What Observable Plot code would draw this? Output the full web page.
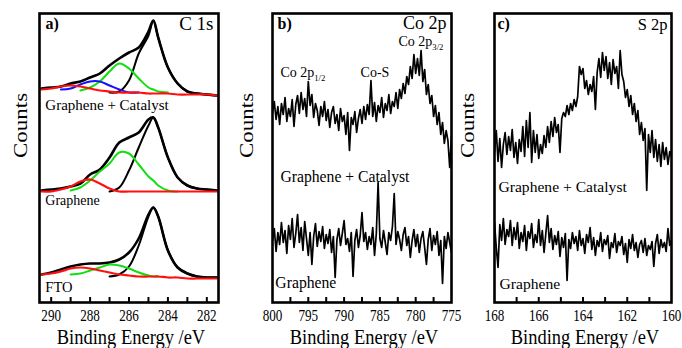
<!DOCTYPE html>
<html>
<head>
<meta charset="utf-8">
<script src="https://cdn.jsdelivr.net/npm/d3@7"></script>
<script src="https://cdn.jsdelivr.net/npm/@observablehq/plot@0.6"></script>
<style>
  html, body { margin: 0; padding: 0; background: #fff; overflow: hidden; }
  #chart { position: relative; width: 682px; height: 348px; }
  #chart svg { position: absolute; top: 0; overflow: visible; }
</style>
</head>
<body>
<div id="chart"></div>
<script>
// ---------- C 1s (panel a): binding-energy samples and read-off counts ----------
const cE = [290.5, 290, 289.5, 289, 288.5, 288, 287.5, 287, 286.5, 286, 285.5, 285, 284.75, 284.5, 284, 283.5, 283, 282.5, 282, 281.5];

// Graphene + Catalyst
const c1sGCEnv   = [214, 215, 216, 219, 221, 225, 229, 237, 244, 250, 255, 271, 282, 265, 235, 219, 211, 209, 208, 207];
const c1sGCRed   = [213, 214, 216, 217, 216, 214, 212, 211, 210, 210, 210, 209, 209, 209, 209, 208, 208, 208, 208, 207];
const c1sGCBlue  = [null, null, 213, 214, 218, 221, 221, 217, 213, 210, 210, null, null, null, null, null, null, null, null, null];
const c1sGCGreen = [null, null, null, null, 212, 215, 221, 231, 239, 234, 224, 215, 213, 211, 210, null, null, null, null, null];
const c1sGCBlack = [null, null, null, null, null, null, null, 210, 211, 222, 249, 267, 282, 265, 235, 219, 211, 209, 208, 207];

// Graphene
const c1sGEnv   = [112, 113, 114, 116, 119, 128, 133, 145, 160, 165, 170, 183, 185, 175, 145, 125, 117, 114, 113, 112];
const c1sGRed   = [111, 111, 113, 116, 121, 123, 119, 114, 111, 111, 111, 111, 111, 111, 111, 111, 111, 111, 111, 111];
const c1sGGreen = [null, null, null, 112, 115, 122, 131, 139, 150, 149, 138, 126, 122, 117, 112, 111, null, null, null, null];
const c1sGBlack = [null, null, null, null, null, null, null, 111, 115, 132, 155, 177, 185, 175, 145, 125, 117, 114, 113, 112];

// FTO
const c1sFEnv   = [28, 30, 33, 36, 38, 39, 39, 40, 43, 50, 64, 88, 95, 86, 52, 35, 29, 26, 25, 25];
const c1sFRed   = [28, 29, 31, 34, 35, 34, 32, 30, 28, 27, 26, 26, 26, 26, 25, 25, 24, 24, 24, 24];
const c1sFGreen = [null, null, null, 28, 29, 32, 35, 38, 37, 34, 30, 27, 26, 26, null, null, null, null, null, null];
const c1sFBlack = [null, null, null, null, null, null, null, 26, 28, 36, 57, 86, 95, 86, 52, 35, 29, 26, 25, 25];

// ---------- Co 2p (panel b): 800 -> 775 eV, 0.25 eV steps ----------
const coStart = 800, coStep = -0.25;
const coGC = [
  190, 201, 183, 196, 178, 199, 188, 205, 181, 194,
  186, 203, 176, 198, 207, 189, 210, 193, 204, 186,
  221, 197, 208, 185, 199, 192, 177, 196, 186, 201,
  182, 193, 175, 190, 196, 179, 188, 172, 194, 181,
  187, 168, 190, 152, 185, 178, 191, 170, 184, 193,
  179, 196, 183, 198, 188, 222, 186, 200, 181, 197,
  190, 205, 185, 199, 192, 208, 189, 201, 196, 210,
  194, 213, 204, 219, 209, 226, 218, 236, 224, 248,
  229, 244, 227, 252, 221, 233, 208, 218, 199, 207,
  186, 197, 178, 190, 168, 180, 159, 172, 162, 135,
  166];
const coG = [
  62, 74, 51, 70, 58, 80, 60, 72, 49, 77,
  63, 84, 55, 69, 88, 60, 75, 52, 81, 64,
  47, 70, 38, 66, 79, 56, 71, 61, 76, 54,
  68, 59, 73, 50, 66, 25, 63, 74, 57, 69,
  82, 58, 64, 51, 70, 26, 62, 73, 55, 67,
  90, 61, 70, 53, 66, 58, 75, 47, 69, 120,
  64, 55, 72, 60, 48, 70, 62, 76, 109, 58,
  71, 63, 52, 68, 75, 57, 66, 45, 62, 73,
  56, 68, 50, 64, 71, 55, 38, 63, 74, 52,
  67, 58, 71, 47, 62, 19, 66, 54, 70, 60,
  50];

// ---------- S 2p (panel c): 168 -> 160 eV, 0.08 eV steps ----------
const sStart = 168, sStep = -0.08;
const sGC = [
  150, 172, 141, 164, 135, 158, 170, 148, 166, 152,
  173, 145, 160, 139, 163, 151, 176, 146, 182, 155,
  190, 140, 172, 150, 168, 144, 158, 149, 167, 155,
  176, 160, 181, 166, 185, 170, 178, 150, 184, 190,
  186, 197, 188, 199, 192, 203, 196, 206, 236, 228,
  234, 214, 222, 208, 218, 211, 226, 193, 230, 244,
  225, 250, 232, 246, 224, 240, 218, 243, 229, 236,
  214, 252, 228, 221, 205, 213, 196, 207, 188, 199,
  181, 192, 168, 180, 162, 174, 112, 168, 150, 172,
  145, 163, 141, 158, 136, 160, 143, 155, 138, 151,
  146];
const sG = [
  80, 55, 35, 78, 62, 84, 58, 73, 66, 82,
  57, 75, 63, 80, 54, 70, 61, 77, 52, 71,
  64, 79, 55, 68, 60, 83, 57, 72, 50, 69,
  87, 60, 74, 53, 67, 58, 71, 46, 65, 55,
  69, 22, 63, 54, 70, 59, 66, 52, 72, 57,
  64, 49, 68, 60, 75, 53, 65, 47, 62, 56,
  70, 51, 63, 58, 67, 44, 60, 55, 69, 50,
  61, 57, 66, 48, 59, 40, 63, 54, 68, 52,
  60, 45, 58, 62, 50, 64, 47, 57, 53, 61,
  36, 59, 68, 49, 63, 55, 60, 51, 74, 57,
  62];

// ---------- tick values ----------
const aLabelTicks = [290, 288, 286, 284, 282];
const aMinorTicks = [290, 289, 288, 287, 286, 285, 284, 283, 282];
const bLabelTicks = [800, 795, 790, 785, 780, 775];
const bMinorTicks = [797.5, 795, 792.5, 790, 787.5, 785, 782.5, 780, 777.5];
const cLabelTicks = [168, 166, 164, 162, 160];
const cMinorTicks = [167, 166, 165, 164, 163, 162, 161];

// ---------- layout / style ----------
const H = 348, MT = 13, MB = 46;
const FONT = '"Liberation Serif", "Times New Roman", Times, serif';
const RED = "#ff1010", GREEN = "#10e010", BLUE = "#1010ff", BLACK = "#000";
const X_TITLE = "Binding Energy /eV", Y_TITLE = "Counts";

const rows = (xs, ys) => ys.map((y, i) => ({x: xs[i], y}));
const coE = coGC.map((_, i) => coStart + coStep * i);
const sE = sGC.map((_, i) => sStart + sStep * i);

const panels = [
  {
    left: 0, width: 230, mL: 39, mR: 12, domain: [290.6, 281.4],
    labelTicks: aLabelTicks, minorTicks: aMinorTicks,
    tag: "a)", tagDx: 6, title: "C 1s", titleSize: 19, titleDx: -5, titleDy: 10, countsDx: -18.5,
    lines: [
      {x: cE, y: c1sGCEnv, c: BLACK, w: 2.6}, {x: cE, y: c1sGCBlack, c: BLACK, w: 2},
      {x: cE, y: c1sGCGreen, c: GREEN, w: 2}, {x: cE, y: c1sGCBlue, c: BLUE, w: 2}, {x: cE, y: c1sGCRed, c: RED, w: 2.2},
      {x: cE, y: c1sGEnv, c: BLACK, w: 2.6}, {x: cE, y: c1sGBlack, c: BLACK, w: 2},
      {x: cE, y: c1sGGreen, c: GREEN, w: 2}, {x: cE, y: c1sGRed, c: RED, w: 2.2},
      {x: cE, y: c1sFEnv, c: BLACK, w: 2.6}, {x: cE, y: c1sFBlack, c: BLACK, w: 2},
      {x: cE, y: c1sFGreen, c: GREEN, w: 2}, {x: cE, y: c1sFRed, c: RED, w: 2.2}
    ],
    curve: "catmull-rom",
    labels: [
      {text: "Graphene + Catalyst", x: 290.3, y: 197, size: 15},
      {text: "Graphene", x: 290.3, y: 102, size: 14},
      {text: "FTO", x: 290.3, y: 15, size: 14.5}
    ]
  },
  {
    left: 230, width: 230, mL: 42, mR: 9, domain: [800, 775],
    labelTicks: bLabelTicks, minorTicks: bMinorTicks,
    tag: "b)", tagDx: 5, title: "Co 2p", titleSize: 18, titleDx: -5, titleDy: 9.5, countsDx: -25.4,
    lines: [
      {x: coE, y: coGC, c: BLACK, w: 1.7},
      {x: coE, y: coG, c: BLACK, w: 1.7}
    ],
    curve: "linear",
    labels: [
      {text: "Co 2p_3/2", x: 782.4, y: 260.5, size: 14},
      {text: "Co 2p_1/2", x: 798.9, y: 229.5, size: 14},
      {text: "Co-S", x: 787.7, y: 229.5, size: 14},
      {text: "Graphene + Catalyst", x: 798.9, y: 126, size: 15.7},
      {text: "Graphene", x: 799.6, y: 19.5, size: 15.7}
    ]
  },
  {
    left: 460, width: 222, mL: 34, mR: 11, domain: [168, 160],
    labelTicks: cLabelTicks, minorTicks: cMinorTicks,
    tag: "c)", tagDx: 3, title: "S 2p", titleSize: 16.5, titleDx: -4, titleDy: 11, countsDx: -26.4,
    lines: [
      {x: sE, y: sGC, c: BLACK, w: 1.7},
      {x: sE, y: sG, c: BLACK, w: 1.7}
    ],
    curve: "linear",
    labels: [
      {text: "Graphene + Catalyst", x: 167.82, y: 116, size: 15.6},
      {text: "Graphene", x: 167.77, y: 19, size: 15.6}
    ]
  }
];

function squeezeEl(el, s, rotated) {
  const t = el.getAttribute("transform");
  const sc = rotated ? ` scale(1,${s})` : ` scale(${s},1)`;
  if (t) el.setAttribute("transform", t + sc);
  else {
    const x = +el.getAttribute("x") || 0, y = +el.getAttribute("y") || 0;
    el.setAttribute("transform", `translate(${x},${y})${sc} translate(${-x},${-y})`);
  }
}

function postProcess(svg) {
  d3.select(svg).selectAll('g[aria-label="x-axis tick label"] text').each(function () { squeezeEl(this, 0.82, false); });
  d3.select(svg).selectAll("text").each(function () {
    const txt = this.textContent || "";
    if (txt === X_TITLE) squeezeEl(this, 0.88, false);
    else if (txt === Y_TITLE) squeezeEl(this, 0.85, true);
    const m = txt.match(/^(.*)_(\d\/\d)$/);
    if (m) {
      this.textContent = m[1];
      d3.select(this).append("tspan").attr("font-size", "0.62em").attr("dy", "0.35em").text(m[2]);
    }
  });
}

const chart = document.getElementById("chart");
for (const p of panels) {
  const innerH = H - MT - MB;
  const T = {fill: "#000", lineAnchor: "middle"};
  const marks = [];
  for (const l of p.lines) {
    marks.push(Plot.line(rows(l.x, l.y), {x: "x", y: "y", stroke: l.c, strokeWidth: l.w, curve: p.curve, clip: true}));
  }
  marks.push(Plot.frame({stroke: "#000", strokeWidth: 2.6}));
  marks.push(Plot.tickX(p.minorTicks, {x: d => d, insetTop: innerH - 5, stroke: "#000", strokeWidth: 2}));
  marks.push(Plot.axisX(p.labelTicks, {tickSize: 0, tickPadding: 7, fontSize: 16, label: null, tickFormat: d => String(d), fill: "#000"}));
  marks.push(Plot.text([p.tag], {...T, frameAnchor: "top-left", dx: p.tagDx, dy: 10, textAnchor: "start", fontWeight: "bold", fontSize: 16}));
  marks.push(Plot.text([p.title], {...T, frameAnchor: "top-right", dx: p.titleDx, dy: p.titleDy, textAnchor: "end", fontSize: p.titleSize}));
  for (const lb of p.labels) {
    marks.push(Plot.text([lb], {...T, x: "x", y: "y", text: "text", textAnchor: "start", fontSize: lb.size}));
  }
  marks.push(Plot.text([Y_TITLE], {...T, frameAnchor: "left", dx: p.countsDx, rotate: -90, fontSize: 23}));
  marks.push(Plot.text([X_TITLE], {...T, frameAnchor: "bottom", dx: 2, dy: 34.5, fontSize: 21}));

  const svg = Plot.plot({
    width: p.width, height: H,
    marginLeft: p.mL, marginRight: p.mR, marginTop: MT, marginBottom: MB,
    x: {domain: p.domain, axis: null},
    y: {domain: [0, innerH], axis: null},
    style: {fontFamily: FONT, background: "transparent", overflow: "visible", color: "#000"},
    marks
  });
  svg.style.left = p.left + "px";
  postProcess(svg);
  chart.appendChild(svg);
}
</script>
</body>
</html>
